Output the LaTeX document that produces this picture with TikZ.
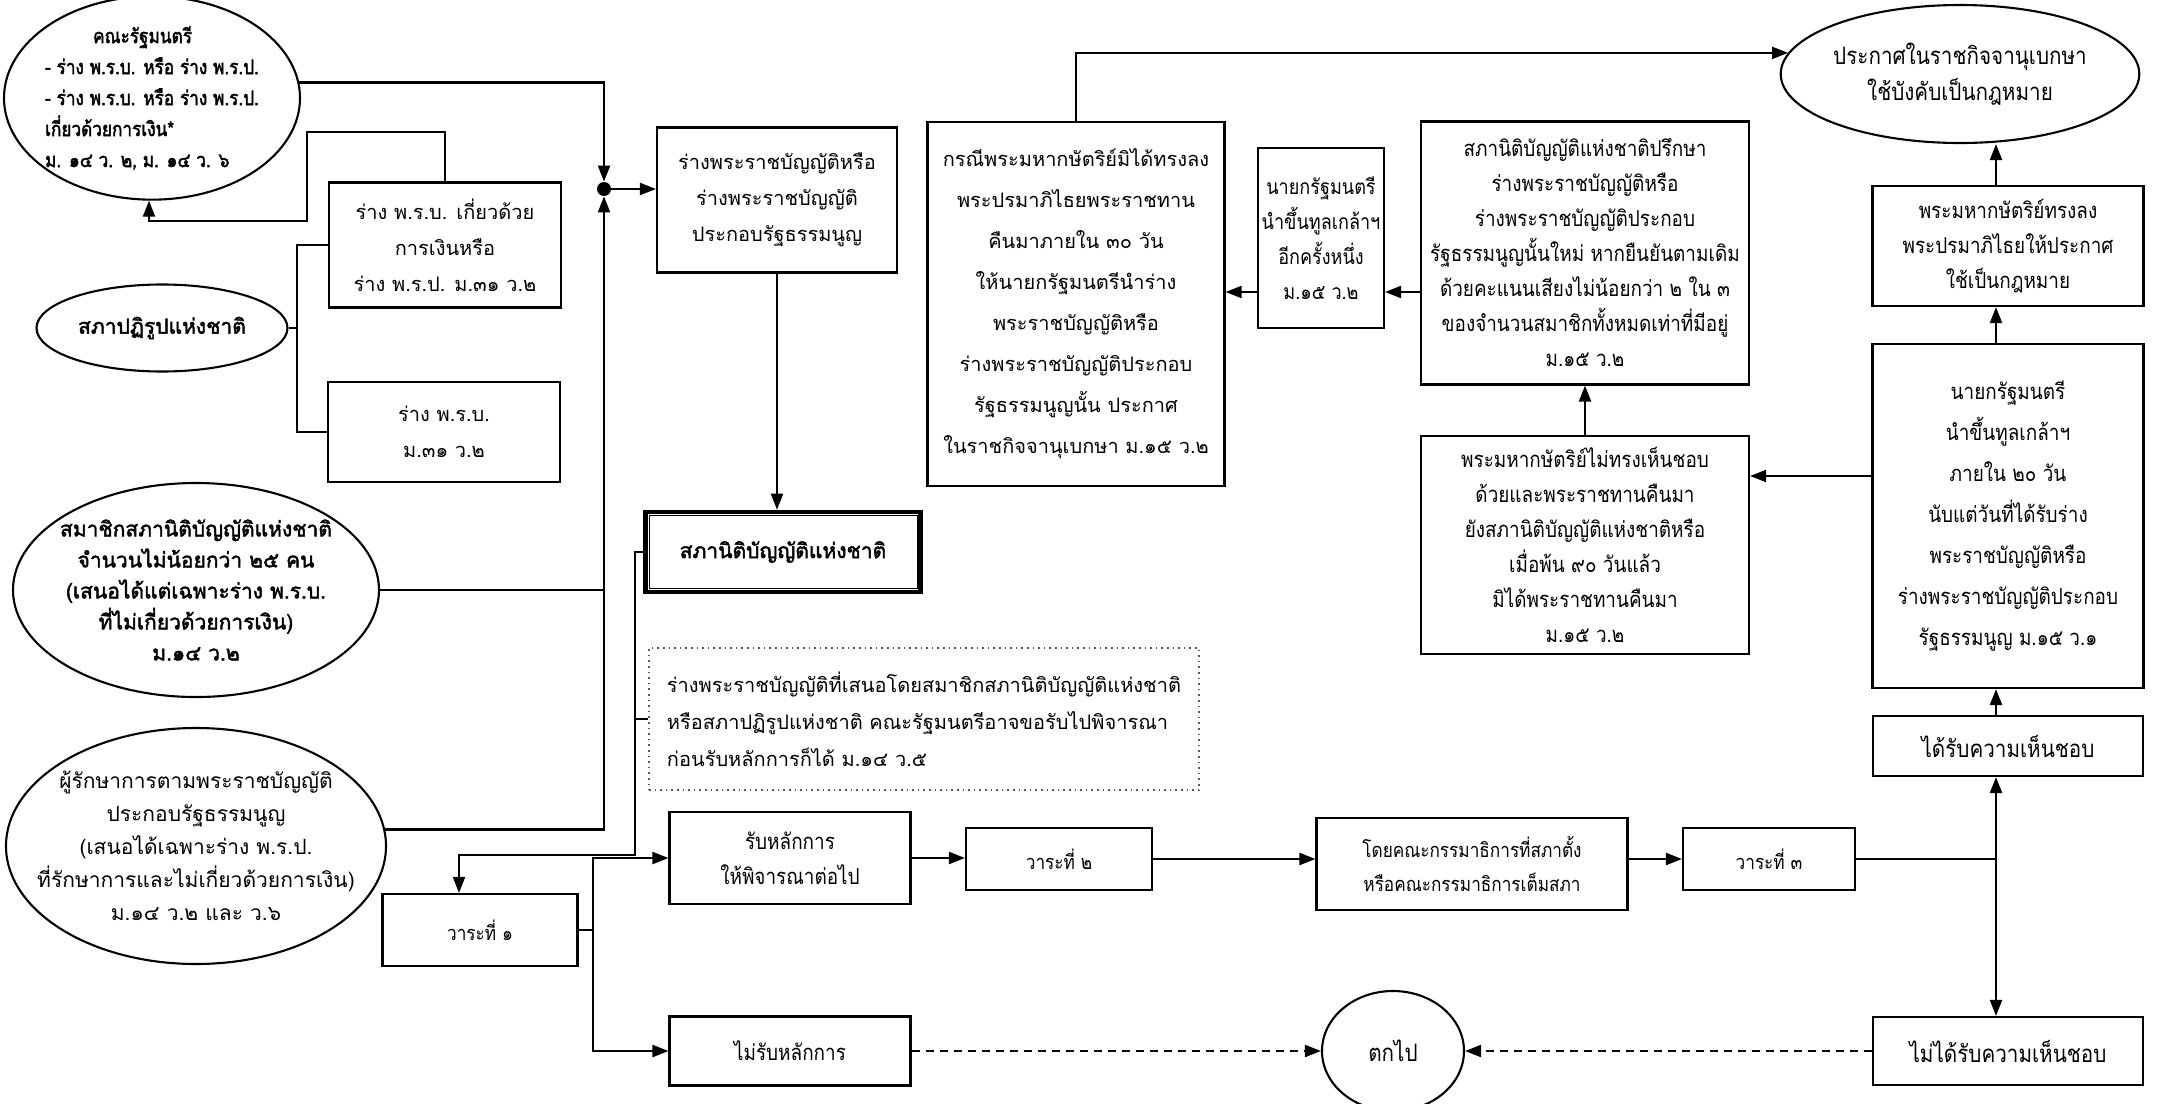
\documentclass[tikz,border=0pt]{standalone}
\usepackage{fontspec}
\newfontfamily\thaifont[Script=Thai,AutoFakeBold=2]{Loma}
\newfontfamily\thainarrow[Script=Thai,FakeStretch=0.86,AutoFakeBold=2]{Loma}
\usetikzlibrary{arrows.meta}
\usetikzlibrary{positioning,shapes.geometric,calc}
\tikzset{boxSize/.style 2 args={minimum width=#1,minimum height=#2},
		stepBox/.style={rectangle,draw,line width=1.05pt,align=center,inner sep=1pt,
		                font=\thaifont\fontsize{10}{18}\selectfont},
		narrowBox/.style={stepBox,font=\thainarrow\fontsize{11}{17.5}\selectfont},
		readBox/.style={stepBox,font=\thainarrow\fontsize{10}{17}\selectfont},
		bigBox/.style={stepBox,font=\thainarrow\fontsize{12}{17}\selectfont},
		srcOval/.style={ellipse,draw,line width=1.05pt,align=center,inner xsep=-9pt,inner ysep=0pt,
		                font=\thaifont\bfseries\fontsize{10.5}{15.5}\selectfont},
		endOval/.style={ellipse,draw,line width=1.05pt,align=center,inner sep=0pt,
		                font=\thainarrow\fontsize{12}{18}\selectfont},
		mainBox/.style={rectangle,draw,line width=2.3pt,align=center,
		                font=\thaifont\bfseries\fontsize{10.5}{14}\selectfont},
		noteBox/.style={rectangle,draw=black!65,dotted,line width=0.8pt,align=left,inner sep=1pt,
		                font=\thaifont\fontsize{10}{18.5}\selectfont},
		junctionDot/.style={circle,fill,inner sep=0pt,minimum size=7pt},
		plainEdge/.style={line width=1.05pt},
		Dedge/.style={-{Triangle[length=8pt,width=6pt]},line width=1.05pt},
		DedgeDash/.style={Dedge,dash pattern=on 4pt off 3pt}}
\begin{document}
\begin{tikzpicture}[x=0.5pt,y=-0.5pt]
\useasboundingbox (0,0) rectangle (2163,1103);

% who may propose a bill
\node[srcOval,boxSize={148pt}{95pt},align=left,inner xsep=-14pt,font=\thainarrow\bfseries\fontsize{10}{15.5}\selectfont] (cabinet) at (152,98)
	{\hspace*{2.4em}คณะรัฐมนตรี\\- ร่าง พ.ร.บ. หรือ ร่าง พ.ร.ป.\\- ร่าง พ.ร.บ. หรือ ร่าง พ.ร.ป.\\เกี่ยวด้วยการเงิน*\\ม. ๑๔ ว. ๒, ม. ๑๔ ว. ๖};
\node[stepBox,boxSize={116pt}{62.5pt}] (moneyBill) at (445,245)
	{ร่าง พ.ร.บ. เกี่ยวด้วย\\การเงินหรือ\\ร่าง พ.ร.ป. ม.๓๑ ว.๒};
\node[srcOval,boxSize={125.5pt}{43.5pt}] (reform) at (162,328) {สภาปฏิรูปแห่งชาติ};
\node[stepBox,boxSize={116pt}{50pt}] (plainBill) at (444,432) {ร่าง พ.ร.บ.\\ม.๓๑ ว.๒};
\node[srcOval,boxSize={183pt}{107pt}] (members) at (196,590)
	{สมาชิกสภานิติบัญญัติแห่งชาติ\\จำนวนไม่น้อยกว่า ๒๕ คน\\(เสนอได้แต่เฉพาะร่าง พ.ร.บ.\\ที่ไม่เกี่ยวด้วยการเงิน)\\ม.๑๔ ว.๒};
\node[srcOval,boxSize={190pt}{118pt},inner xsep=-15pt,font=\thaifont\fontsize{10.5}{16.5}\selectfont] (keeper) at (196,846)
	{ผู้รักษาการตามพระราชบัญญัติ\\ประกอบรัฐธรรมนูญ\\(เสนอได้เฉพาะร่าง พ.ร.ป.\\ที่รักษาการและไม่เกี่ยวด้วยการเงิน)\\ม.๑๔ ว.๒ และ ว.๖};
\node[junctionDot] (jn) at (604,189) {};

% the bill and the assembly
\node[stepBox,boxSize={120pt}{72.5pt}] (draft) at (777,200)
	{ร่างพระราชบัญญัติหรือ\\ร่างพระราชบัญญัติ\\ประกอบรัฐธรรมนูญ};
\node[mainBox,boxSize={137.5pt}{40pt}] (nla) at (783,552) {สภานิติบัญญัติแห่งชาติ};
\draw[line width=0.5pt] ([shift={(2.9pt,-2.9pt)}]nla.north west) rectangle ([shift={(-2.9pt,2.9pt)}]nla.south east);
\node[noteBox,boxSize={275pt}{71pt}] (note) at (924,719)
	{ร่างพระราชบัญญัติที่เสนอโดยสมาชิกสภานิติบัญญัติแห่งชาติ\\หรือสภาปฏิรูปแห่งชาติ คณะรัฐมนตรีอาจขอรับไปพิจารณา\\ก่อนรับหลักการก็ได้ ม.๑๔ ว.๕};

% readings
\node[readBox,boxSize={97.5pt}{36pt}] (readOne) at (480,930) {วาระที่ ๑};
\node[narrowBox,boxSize={120.5pt}{46pt}] (accept) at (790,858) {รับหลักการ\\ให้พิจารณาต่อไป};
\node[narrowBox,boxSize={120.5pt}{34.5pt}] (reject) at (790,1051) {ไม่รับหลักการ};
\node[readBox,boxSize={93pt}{31pt}] (readTwo) at (1059,859) {วาระที่ ๒};
\node[readBox,boxSize={155.5pt}{46pt}] (committee) at (1472,864)
	{โดยคณะกรรมาธิการที่สภาตั้ง\\หรือคณะกรรมาธิการเต็มสภา};
\node[readBox,boxSize={86pt}{31pt}] (readThree) at (1769,859) {วาระที่ ๓};
\node[bigBox,boxSize={135pt}{30pt}] (approved) at (2008,746) {ได้รับความเห็นชอบ};
\node[bigBox,boxSize={135pt}{34pt}] (notApproved) at (2008,1051) {ไม่ได้รับความเห็นชอบ};
\node[endOval,boxSize={71pt}{60pt}] (lapse) at (1393,1051) {ตกไป};

% royal assent
\node[narrowBox,boxSize={135.5pt}{172pt},font=\thainarrow\fontsize{11}{20.5}\selectfont] (pmSubmit) at (2008,516)
	{นายกรัฐมนตรี\\นำขึ้นทูลเกล้าฯ\\ภายใน ๒๐ วัน\\นับแต่วันที่ได้รับร่าง\\พระราชบัญญัติหรือ\\ร่างพระราชบัญญัติประกอบ\\รัฐธรรมนูญ ม.๑๕ ว.๑};
\node[narrowBox,boxSize={135.5pt}{60pt}] (kingSigns) at (2008,246)
	{พระมหากษัตริย์ทรงลง\\พระปรมาภิไธยให้ประกาศ\\ใช้เป็นกฎหมาย};
\node[endOval,boxSize={170pt}{69pt}] (gazette) at (1960,74)
	{ประกาศในราชกิจจานุเบกษา\\ใช้บังคับเป็นกฎหมาย};
\node[narrowBox,boxSize={164pt}{109pt}] (kingRefuses) at (1585,545)
	{พระมหากษัตริย์ไม่ทรงเห็นชอบ\\ด้วยและพระราชทานคืนมา\\ยังสภานิติบัญญัติแห่งชาติหรือ\\เมื่อพ้น ๙๐ วันแล้ว\\มิได้พระราชทานคืนมา\\ม.๑๕ ว.๒};
\node[narrowBox,boxSize={164pt}{131.5pt}] (reconsider) at (1585,253)
	{สภานิติบัญญัติแห่งชาติปรึกษา\\ร่างพระราชบัญญัติหรือ\\ร่างพระราชบัญญัติประกอบ\\รัฐธรรมนูญนั้นใหม่ หากยืนยันตามเดิม\\ด้วยคะแนนเสียงไม่น้อยกว่า ๒ ใน ๓\\ของจำนวนสมาชิกทั้งหมดเท่าที่มีอยู่\\ม.๑๕ ว.๒};
\node[narrowBox,boxSize={63pt}{90pt},font=\thainarrow\fontsize{10.5}{17.5}\selectfont] (pmAgain) at (1321,238)
	{นายกรัฐมนตรี\\นำขึ้นทูลเกล้าฯ\\อีกครั้งหนึ่ง\\ม.๑๕ ว.๒};
\node[stepBox,boxSize={148.5pt}{182pt},font=\thaifont\fontsize{10}{20.5}\selectfont] (noSign) at (1076,304)
	{กรณีพระมหากษัตริย์มิได้ทรงลง\\พระปรมาภิไธยพระราชทาน\\คืนมาภายใน ๓๐ วัน\\ให้นายกรัฐมนตรีนำร่าง\\พระราชบัญญัติหรือ\\ร่างพระราชบัญญัติประกอบ\\รัฐธรรมนูญนั้น ประกาศ\\ในราชกิจจานุเบกษา ม.๑๕ ว.๒};

% bends
\coordinate (bus) at (297,328);
\coordinate (loopUp) at (307,132);
\coordinate (loopDown) at (149,221);
\coordinate (nlaTurn) at (635,855);
\coordinate (forkOne) at (593,930);
\coordinate (forkTwo) at (1996,859);
\coordinate (pmRow) at (1800,476);
\coordinate (kingRow) at (1400,292);

% connectors on the left
\draw[plainEdge] (moneyBill.west) -| (bus) |- (plainBill.west);
\draw[plainEdge] (reform.east) -- (bus);
\draw[Dedge] (moneyBill.north) |- (loopUp) |- (loopDown) -- (loopDown |- cabinet.south);
\draw[Dedge] (cabinet.6) -| (jn.north);
\draw[Dedge] (keeper.5) -| (jn.south);
\draw[plainEdge] (members.east) -- (members.east -| jn);
\draw[Dedge] (jn.east) -- (jn.east -| draft.west);
\draw[Dedge] (draft.south) -- (draft.south |- nla.north);
\draw[Dedge] (nla.west) -| (nlaTurn) -| ([xshift=-10.5pt]readOne.north);
\draw[plainEdge] (note.west) -- (note.west -| nlaTurn);

% readings
\draw[plainEdge] (readOne.east) -- (forkOne);
\draw[Dedge] (forkOne) |- (accept.west);
\draw[Dedge] (forkOne) |- (reject.west);
\draw[Dedge] (accept.east) -- (accept.east -| readTwo.west);
\draw[Dedge] (readTwo.east) -- (readTwo.east -| committee.west);
\draw[Dedge] (readThree.west -| committee.east) -- (readThree.west);
\draw[plainEdge] (readThree.east) -- (forkTwo);
\draw[Dedge] (forkTwo) -- (forkTwo |- approved.south);
\draw[Dedge] (forkTwo) -- (forkTwo |- notApproved.north);
\draw[DedgeDash] (reject.east) -- (lapse.west);
\draw[DedgeDash] (notApproved.west) -- (lapse.east);

% royal assent
\draw[Dedge] (forkTwo |- approved.north) -- (forkTwo |- pmSubmit.south);
\draw[Dedge] (forkTwo |- pmSubmit.north) -- (forkTwo |- kingSigns.south);
\draw[Dedge] (forkTwo |- kingSigns.north) -- (forkTwo |- gazette.south);
\draw[Dedge] (pmSubmit.west |- pmRow) -- (kingRefuses.east |- pmRow);
\draw[Dedge] (kingRefuses.north) -- (kingRefuses.north |- reconsider.south);
\draw[Dedge] (reconsider.west |- kingRow) -- (pmAgain.east |- kingRow);
\draw[Dedge] (pmAgain.west |- kingRow) -- (noSign.east |- kingRow);
\draw[Dedge] (noSign.north) |- (gazette.173);
\end{tikzpicture}
\end{document}
